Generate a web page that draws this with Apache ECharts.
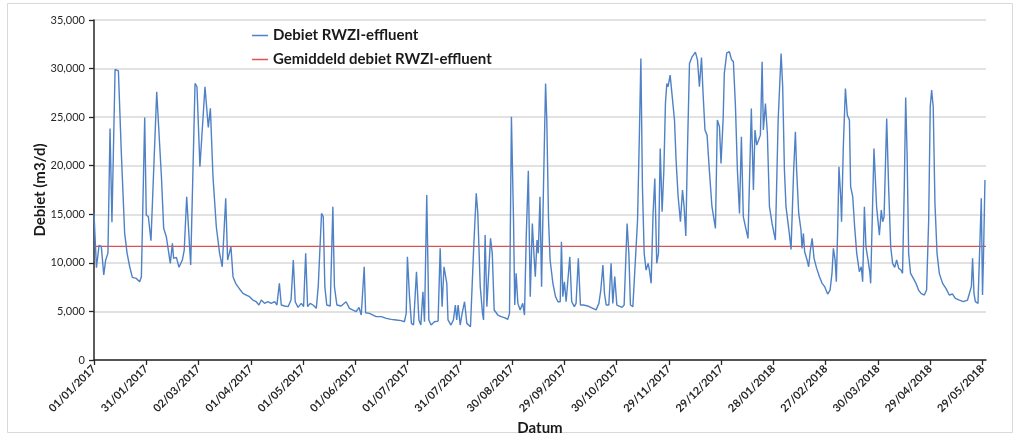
<!DOCTYPE html>
<html>
<head>
<meta charset="utf-8">
<script src="https://cdn.jsdelivr.net/npm/echarts@6/dist/echarts.min.js"></script>
<style>
html,body{margin:0;padding:0;background:#fff;}
#chart{width:1021px;height:436px;}
</style>
</head>
<body>
<div id="chart"></div>
<script>
const days = [
0,1.4,2.9,4.2,5.6,6.7,8.0,9.2,10.3,12.1,14.0,15.7,17.6,19.0,20.5,22.0,24.3,26.2,27.2,29.1,
30.0,31.2,32.7,36.0,36.9,38.7,40.0,41.5,43.8,45.0,45.7,47.3,48.8,50.7,51.8,53.2,55.5,58.0,59.1,60.8,
63.7,65.6,66.8,68.3,70.2,72.1,73.6,74.4,75.6,76.7,77.4,78.6,79.8,81.3,82.6,84.0,85.5,87.4,89.3,91.2,
93.1,94.7,96.0,97.9,99.8,101.7,103.7,105.0,106.4,107.5,109.4,111.4,113.1,114.4,115.5,117.1,119.0,120.3,121.5,122.6,
124.1,125.7,127.6,128.7,130.6,131.6,132.5,133.6,135.6,137.1,138.0,139.4,141.9,144.7,146.6,148.4,150.5,152.1,153.4,155.1,
155.9,158.2,160.1,162.0,164.9,167.8,170.6,173.5,176.3,178.2,179.2,179.9,181.1,182.2,183.4,185.1,186.5,187.6,188.8,189.7,
191.0,192.2,193.5,195.4,197.5,198.7,199.8,200.9,202.5,203.2,204.9,206.3,207.4,208.2,209.0,210.2,211.3,212.7,214.0,215.1,
216.1,217.8,219.4,220.3,221.7,223.0,223.6,224.5,225.5,226.6,227.6,228.6,229.7,231.8,233.7,235.6,237.5,238.5,239.6,240.8,
241.5,242.3,243.3,244.6,246.1,247.1,248.1,249.3,250.4,251.6,252.5,253.3,254.3,255.0,256.0,256.9,258.0,259.2,259.9,260.9,
261.8,263.4,264.9,266.3,267.6,268.3,269.1,270.0,271.0,271.9,273.1,274.2,275.7,276.7,278.0,279.2,280.9,283.4,286.3,288.2,
289.8,290.9,292.1,293.0,294.0,295.5,296.8,297.8,298.9,300.1,301.2,303.1,304.3,306.0,307.0,307.9,309.3,310.4,312.0,313.1,
313.9,314.8,315.8,316.9,318.1,318.8,319.8,320.9,321.9,323.0,324.0,325.0,326.1,327.1,328.0,328.8,329.5,330.7,331.8,333.2,
334.1,335.3,336.6,337.8,338.7,339.7,340.6,341.8,343.3,345.2,346.4,347.5,348.7,349.6,350.7,351.9,353.2,354.7,356.7,357.8,
359.0,359.9,361.1,361.8,363.2,364.7,365.9,367.0,368.2,369.3,370.5,371.6,372.7,373.9,375.4,377.3,378.5,379.4,380.4,381.5,
382.5,383.5,384.2,385.4,386.5,387.7,389.2,391.1,392.7,394.4,395.3,396.3,397.2,399.1,400.1,401.6,402.6,403.3,404.5,405.8,
406.4,407.2,407.9,409.3,410.2,411.2,412.2,413.3,414.8,416.4,417.9,419.4,421.1,422.5,423.6,424.4,425.4,426.1,426.9,427.6,
428.6,429.1,430.1,431.3,432.4,433.6,434.3,435.5,436.6,437.8,439.3,440.4,441.2,442.2,443.1,444.3,445.4,445.8,447.7,449.2,
450.8,451.9,452.7,453.5,455.0,456.1,457.3,458.4,459.6,460.7,461.9,463.2,464.1,465.1,465.9,466.7,467.6,468.7,470.3,471.8,
473.3,474.7,476.6,477.9,479.1,480.0,480.8,481.7,482.7,483.9,485.2,487.1,489.0,490.9,492.8,494.4,496.7,499.0,501.4,502.4,
503.6,504.3,505.1,505.9,507.4,508.5,509.3,510.0,510.6,511.4
];
// Debiet RWZI-effluent (m3/d)
const flow = [
15100,9500,11800,11700,8750,10300,11000,23840,14170,29910,29770,21270,13030,10980,9600,8510,8400,8060,8580,24970,
14920,14750,12280,27610,27610,18870,13550,12690,9950,12000,10460,10560,9540,10290,11320,16810,9780,28470,28130,19890,
28130,23940,25900,18870,13720,10980,9600,9600,16640,10290,10800,11660,8580,7890,7550,7200,6860,6690,6520,6170,
6000,5660,6170,5830,6000,5830,6000,5660,7890,5660,5560,5490,6170,10290,6000,5420,5830,5490,10980,5490,
5830,5660,5320,7550,15090,14750,7550,5660,5560,15780,7550,5660,5560,6000,5320,5150,4970,5420,4630,9600,
4870,4800,4630,4460,4460,4290,4180,4120,4050,3940,4800,10630,6520,3770,3600,9090,4120,3600,7030,3940,
16980,4120,3600,3940,4000,11490,5490,9600,7890,4120,3600,4120,5660,4120,5660,3600,4800,6000,3770,3770,
3430,10980,17150,15090,7550,4800,4120,12860,5490,5490,12520,10980,5150,4630,4460,4360,4180,4800,25040,14410,
5660,8920,5830,5150,5830,4630,12690,19480,6520,14060,10980,8580,12350,10980,16810,7550,17840,28470,24700,14410,
10290,7890,6520,6000,6000,12180,6520,8060,6000,5830,10630,6000,5490,5830,10460,5660,5660,5560,5320,5150,
5830,7200,9780,6860,5660,5660,9950,5830,8580,5660,5490,5420,5660,14060,10980,5660,5490,5660,14410,23670,
31040,17840,10980,9260,9950,9260,7890,15090,18690,9950,10980,21780,15260,19550,26410,28470,28130,29330,29160,24700,
20580,16810,14230,17490,15780,12760,21270,30530,31210,31690,30870,28130,31140,27440,23670,23150,19550,15780,13550,24700,
24010,20240,24700,29500,31620,31730,30940,30700,26070,19550,15090,22980,14750,13720,12520,25900,17490,23670,22120,22640,
23150,30700,23670,26410,23320,15780,14060,12350,24700,31560,28130,19550,15780,13030,11390,19550,23500,19550,15090,13380,
11490,13030,11150,10290,9600,11320,12520,10460,9430,8580,7890,7550,6790,7200,8920,11490,10290,8060,13720,19890,
16810,14230,21950,27950,25210,24700,17840,16810,13720,10980,9090,9600,8060,15780,11660,10290,8920,7890,21780,15780,
12860,15440,14230,14750,24870,17840,11660,9950,9540,10290,9430,9260,8920,17840,27030,21270,10980,8920,8400,7890,
7200,6860,6690,7200,14410,26070,27780,26070,16120,10980,8920,7890,7370,6690,6790,6350,6170,6000,6170,6350,
7550,10460,6860,6000,5830,5660,16640,6690,10980,18520
];
const meanFlow = 11700;
const tickLabels = ['01/01/2017','31/01/2017','02/03/2017','01/04/2017','01/05/2017','01/06/2017',
  '01/07/2017','31/07/2017','30/08/2017','29/09/2017','30/10/2017','29/11/2017','29/12/2017',
  '28/01/2018','27/02/2018','30/03/2018','29/04/2018','29/05/2018'];
const tickStep = 30;
const seriesNames = ['Debiet RWZI-effluent', 'Gemiddeld debiet RWZI-effluent'];

const tickPos = tickLabels.map((_, i) => i * tickStep);
const xMax = 512;
const lineData = days.map((d, i) => [d, flow[i]]);
const meanData = [[0, meanFlow], [xMax, meanFlow]];

const FONT = 'Lato';
const BLUE = '#4f81c6';
const RED = '#e0524f';
const chart = echarts.init(document.getElementById('chart'), null, {renderer: 'canvas'});
chart.setOption({
  animation: false,
  backgroundColor: '#ffffff',
  textStyle: {fontFamily: FONT},
  grid: {left: 94, right: 35, top: 20, bottom: 76, containLabel: false, outerBoundsMode: 'none'},
  legend: {
    orient: 'vertical', left: 247, top: 23, itemGap: 9,
    icon: 'rect', itemWidth: 16, itemHeight: 1.5,
    textStyle: {fontFamily: FONT, fontWeight: 'bold', fontSize: 15, color: '#1a1a1a'},
    data: seriesNames
  },
  xAxis: {
    type: 'value', min: 0, max: xMax, interval: tickStep,
    name: 'Datum', nameLocation: 'middle', nameGap: 61, nameMoveOverlap: false,
    nameTextStyle: {fontFamily: FONT, fontWeight: 'bold', fontSize: 15, color: '#1a1a1a'},
    axisLine: {show: true, onZero: false, lineStyle: {color: '#262626', width: 1.5}},
    axisTick: {show: true, length: 5, customValues: tickPos, lineStyle: {color: '#262626', width: 1.3}},
    axisLabel: {
      customValues: tickPos, rotate: 45, margin: 7,
      fontFamily: FONT, fontWeight: 'bold', fontSize: 11, color: '#262626',
      formatter: v => tickLabels[Math.round(v / tickStep)] || ''
    },
    splitLine: {show: false}
  },
  yAxis: {
    type: 'value', min: 0, max: 35000, interval: 5000,
    name: 'Debiet (m3/d)', nameLocation: 'middle', nameGap: 46, nameRotate: 90, nameMoveOverlap: false,
    nameTextStyle: {fontFamily: FONT, fontWeight: 'bold', fontSize: 15, color: '#1a1a1a'},
    axisLine: {show: true, lineStyle: {color: '#262626', width: 1.5}},
    axisTick: {show: true, length: 5, lineStyle: {color: '#262626', width: 1.3}},
    axisLabel: {
      margin: 9, fontFamily: FONT, fontSize: 11, color: '#262626',
      formatter: v => v.toLocaleString('en-US')
    },
    splitLine: {show: true, lineStyle: {color: '#d9d9d9', width: 1.5}}
  },
  series: [
    {
      name: seriesNames[0], type: 'line', data: lineData,
      symbol: 'none', smooth: false, z: 3,
      lineStyle: {color: BLUE, width: 1.4},
      itemStyle: {color: BLUE}
    },
    {
      name: seriesNames[1], type: 'line', data: meanData,
      symbol: 'none', z: 2,
      lineStyle: {color: RED, width: 1.1},
      itemStyle: {color: RED}
    }
  ],
  graphic: [{
    type: 'rect', silent: true, z: -1,
    shape: {x: 7.5, y: 3.5, width: 1005, height: 429},
    style: {fill: null, stroke: '#d9d9d9', lineWidth: 1}
  }]
});
</script>
</body>
</html>
